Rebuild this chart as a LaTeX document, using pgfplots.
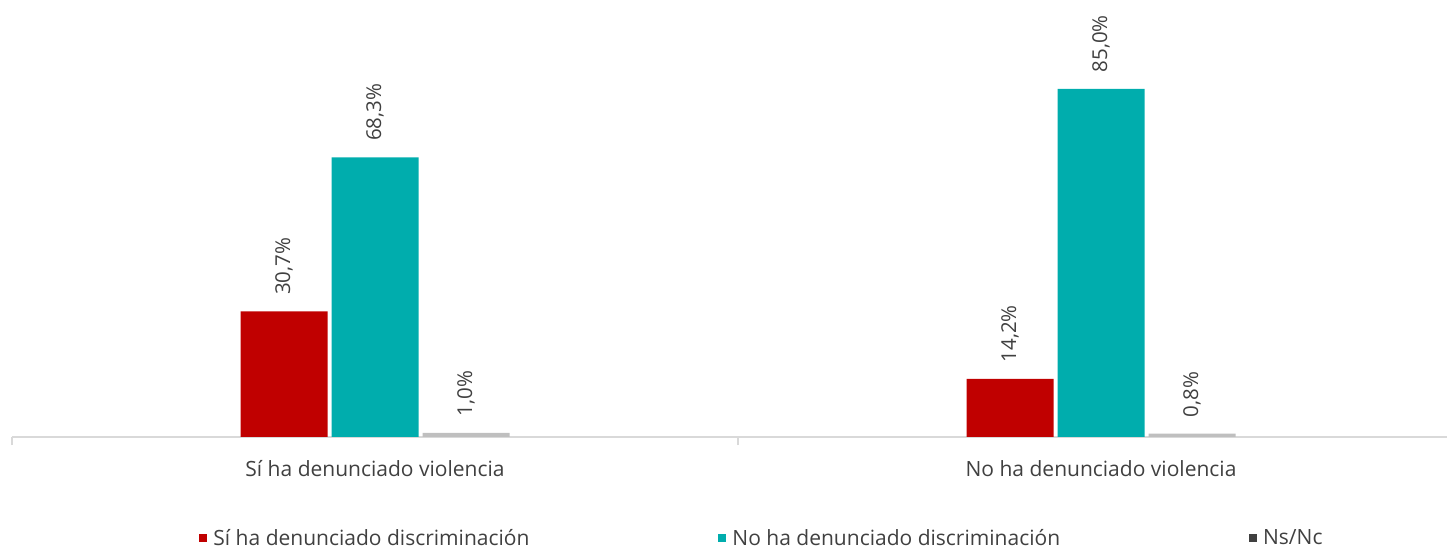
\documentclass[border=0pt]{standalone}
\usepackage{pgfplots}
\pgfplotsset{compat=1.18}
\usepackage{fontspec}
\setmainfont{Open Sans}
\definecolor{cred}{HTML}{C00000}
\definecolor{cteal}{HTML}{00ADAD}
\definecolor{cgray}{HTML}{404040}
\definecolor{cgraylight}{HTML}{BFBFBF}
\definecolor{axgray}{HTML}{D9D9D9}
\definecolor{txt}{HTML}{404040}
\begin{document}
\begin{tikzpicture}[x=1pt,y=1pt]
\path[use as bounding box] (-12,-111) rectangle (1435,437);
\begin{axis}[
  at={(0,0)}, anchor=south west,
  scale only axis, width=1452pt, height=368.5pt,
  xmin=-0.5, xmax=1.5, ymin=0, ymax=90,
  axis y line=none,
  axis x line*=bottom,
  x axis line style={axgray, line width=1.5pt, -},
  xtick={0,1},
  xticklabels={Sí ha denunciado violencia, No ha denunciado violencia},
  major tick length=0pt,
  extra x ticks={-0.5,0.5,1.5},
  extra x tick labels={},
  extra x tick style={major tick length=8pt, tick style={axgray, line width=1.5pt}, tick align=outside},
  xticklabel style={font=\fontsize{21}{24}\selectfont, text=txt, yshift=-20pt},
  ybar, bar width=87pt,
  clip=false,
  /pgf/number format/assume math mode=true,
  nodes near coords={\pgfmathprintnumber[fixed,fixed zerofill,precision=1,use comma]{\pgfplotspointmeta}\%},
  every node near coord/.append style={rotate=90, anchor=west, font=\fontsize{20.5}{24}\selectfont, text=txt, xshift=13pt},
  legend style={draw=none, fill=none, at={(750/1452, -101/368.5)}, anchor=center,
    legend columns=3, font=\fontsize{21}{24}\selectfont, text=txt,
    /tikz/every odd column/.append style={column sep=4pt},
    /tikz/every even column/.append style={column sep=187pt}},
  legend cell align=left,
  legend image code/.code={\fill[#1] (0pt,-4pt) rectangle (8pt,4pt);},
]
\addplot[fill=cred, draw=none, bar shift=-91pt] coordinates {(0,30.7) (1,14.2)};
\addplot[fill=cteal, draw=none, bar shift=0pt] coordinates {(0,68.3) (1,85.0)};
\addplot[fill=cgraylight, draw=none, bar shift=91pt,
  legend image code/.code={\fill[cgray] (0pt,-4pt) rectangle (8pt,4pt);}] coordinates {(0,1.0) (1,0.8)};
\legend{Sí ha denunciado discriminación, No ha denunciado discriminación, Ns/Nc}
\end{axis}
\end{tikzpicture}
\end{document}
